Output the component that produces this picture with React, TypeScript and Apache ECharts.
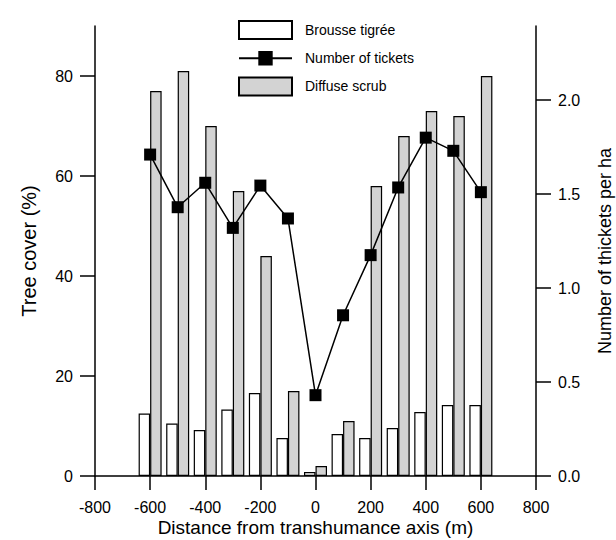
import React, { useEffect, useRef } from "react";
import * as echarts from "echarts";

const distances = [-600, -500, -400, -300, -200, -100, 0, 100, 200, 300, 400, 500, 600];
const brousseTigree = [12.5, 10.5, 9.2, 13.3, 16.6, 7.6, 0.8, 8.4, 7.6, 9.6, 12.8, 14.2, 14.2];
const diffuseScrub = [77, 81, 70, 57, 44, 17, 2, 11, 58, 68, 73, 72, 80];
const thickets = [1.71, 1.43, 1.56, 1.32, 1.545, 1.37, 0.43, 0.855, 1.175, 1.535, 1.8, 1.73, 1.51];
const leftTicks = [0, 20, 40, 60, 80];
const rightTicks = [0, 0.5, 1.0, 1.5, 2.0];

const FONT = "'Liberation Sans', Arial, sans-serif";

export default function App() {
  const ref = useRef<HTMLDivElement>(null);
  useEffect(() => {
    if (!ref.current) return;
    const chart = echarts.init(ref.current, null, { renderer: "svg" });
    const axisLine = { show: true, onZero: false, lineStyle: { color: "#000", width: 1.5 } };
    const option: any = {
      animation: false,
      backgroundColor: "#fff",
      textStyle: { fontFamily: FONT, color: "#000" },
      grid: { left: 95, right: 80, top: 26, bottom: 64, outerBoundsMode: "none" },
      legend: {
        orient: "vertical",
        left: 233,
        top: 15,
        itemWidth: 53,
        itemHeight: 18,
        itemGap: 11,
        textStyle: { fontFamily: FONT, fontSize: 14, color: "#000", padding: [0, 0, 0, 8] },
        data: [
          { name: "Brousse tigrée", icon: "rect" },
          { name: "Number of tickets" },
          { name: "Diffuse scrub", icon: "rect" },
        ],
      },
      xAxis: {
        type: "value",
        min: -800,
        max: 800,
        interval: 200,
        name: "Distance from transhumance axis (m)",
        nameLocation: "middle",
        nameGap: 42,
        nameMoveOverlap: false,
        nameTextStyle: { fontFamily: FONT, fontSize: 19, color: "#000" },
        axisLine,
        axisTick: { show: true, length: 14, lineStyle: { color: "#000", width: 1.5 } },
        axisLabel: { fontSize: 16, color: "#000", margin: 23, fontFamily: FONT },
        splitLine: { show: false },
      },
      yAxis: [
        {
          type: "value",
          min: 0,
          max: 90,
          position: "left",
          name: "Tree cover (%)",
          nameLocation: "middle",
          nameRotate: 90,
          nameGap: 56,
          nameMoveOverlap: false,
          nameTextStyle: { fontFamily: FONT, fontSize: 20, color: "#000" },
          axisLine,
          axisTick: { show: true, length: 15, customValues: leftTicks, lineStyle: { color: "#000", width: 1.5 } },
          axisLabel: { fontSize: 16, color: "#000", margin: 22, customValues: leftTicks, fontFamily: FONT },
          splitLine: { show: false },
        },
        {
          type: "value",
          min: 0,
          max: 2.394,
          position: "right",
          name: "Number of thickets per ha",
          nameLocation: "middle",
          nameRotate: 90,
          nameGap: 60,
          nameMoveOverlap: false,
          nameTextStyle: { fontFamily: FONT, fontSize: 18, color: "#000" },
          axisLine,
          axisTick: { show: true, length: 15, customValues: rightTicks, lineStyle: { color: "#000", width: 1.5 } },
          axisLabel: {
            fontSize: 16,
            color: "#000",
            margin: 22,
            customValues: rightTicks,
            fontFamily: FONT,
            formatter: (v: number) => v.toFixed(1),
          },
          splitLine: { show: false },
        },
      ],
      series: [
        {
          name: "Brousse tigrée",
          type: "bar",
          xAxisIndex: 0,
          yAxisIndex: 0,
          barWidth: 11.5,
          barGap: "0%",
          itemStyle: { color: "#fff", borderColor: "#000", borderWidth: 1.2 },
          data: distances.map((d, i) => [d, brousseTigree[i]]),
        },
        {
          name: "Diffuse scrub",
          type: "bar",
          xAxisIndex: 0,
          yAxisIndex: 0,
          barWidth: 11.5,
          barGap: "0%",
          itemStyle: { color: "#d3d3d3", borderColor: "#000", borderWidth: 1.2 },
          data: distances.map((d, i) => [d, diffuseScrub[i]]),
        },
        {
          name: "Number of tickets",
          type: "line",
          xAxisIndex: 0,
          yAxisIndex: 1,
          symbol: "rect",
          symbolSize: 12,
          itemStyle: { color: "#000" },
          lineStyle: { color: "#000", width: 1.5 },
          data: distances.map((d, i) => [d, thickets[i]]),
          z: 5,
        },
      ],
    };
    chart.setOption(option);
    return () => chart.dispose();
  }, []);
  return (
    <div
      ref={ref}
      style={{ position: "absolute", left: 0, top: 0, width: 616, height: 540 }}
    />
  );
}
